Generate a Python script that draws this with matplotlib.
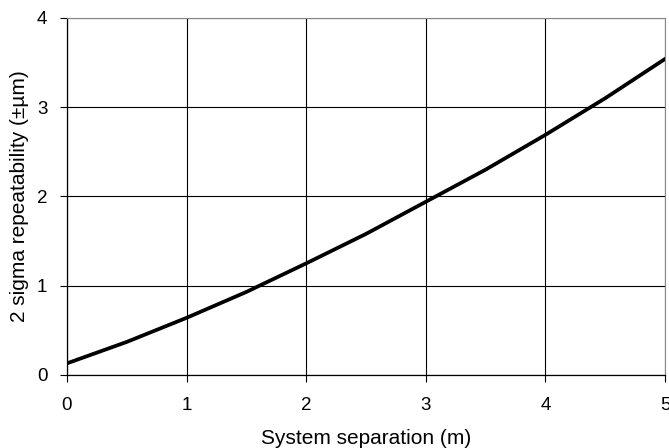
import numpy as np
import matplotlib.pyplot as plt

plt.rcParams['font.family'] = ['Liberation Sans', 'DejaVu Sans']

# separation (m) vs 2 sigma repeatability (um)
separation = [0, 0.5, 1, 1.5, 2, 2.5, 3, 3.5, 4, 4.5, 5]
repeatability = [0.13, 0.37, 0.64, 0.93, 1.25, 1.58, 1.94, 2.30, 2.69, 3.10, 3.54]

fig = plt.figure(figsize=(6.69, 4.48), dpi=100)
ax = fig.add_axes([0.100, 0.163, 0.894, 0.797])

ax.plot(separation, repeatability, color='black', linewidth=2.7,
        solid_joinstyle='round')

ax.set_xlim(0, 5)
ax.set_ylim(0, 4)
ax.set_xticks(range(6))
ax.set_yticks(range(5))
ax.grid(True, color='black', linewidth=0.8)
ax.set_axisbelow(True)

for s in ['top', 'right']:
    ax.spines[s].set_color('#888888')
for s in ['left', 'bottom']:
    ax.spines[s].set_color('black')
    ax.spines[s].set_linewidth(0.9)

ax.tick_params(direction='out', length=5, width=0.8, labelsize=13.5, pad=9)
ax.tick_params(axis='x', pad=10.5)
ax.set_xlabel('System separation (m)', fontsize=15, labelpad=11)
ax.set_ylabel('2 sigma repeatability (\u00b1\u00b5m)', fontsize=15, labelpad=6)

fig.savefig('out.png', dpi=100)
